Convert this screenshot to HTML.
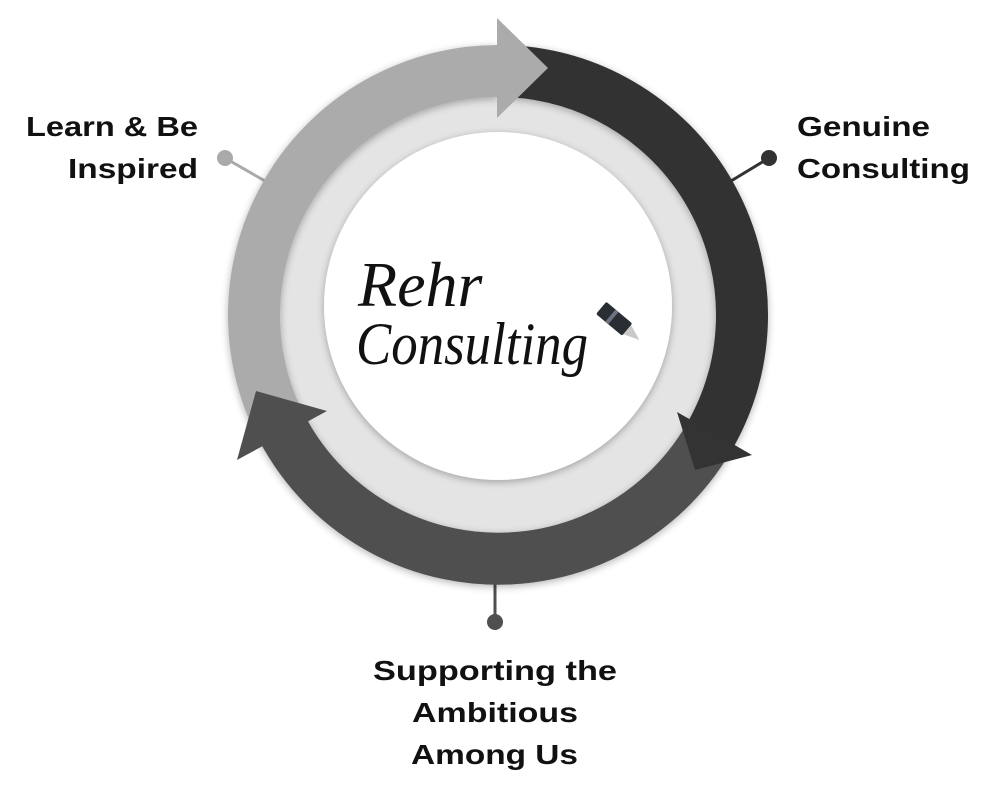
<!DOCTYPE html>
<html><head><meta charset="utf-8"><style>
html,body{margin:0;padding:0;background:#fff;}
svg{display:block;}
.lb{font-family:"Liberation Sans",sans-serif;font-weight:bold;font-size:28px;fill:#111;}
.logo{font-family:"Liberation Serif",serif;font-style:italic;fill:#111;}
</style></head><body>
<svg width="999" height="786" viewBox="0 0 999 786" xmlns="http://www.w3.org/2000/svg">
<defs>
<filter id="sh" x="-20%" y="-20%" width="140%" height="140%"><feGaussianBlur in="SourceAlpha" stdDeviation="4"/><feOffset dy="2"/><feComponentTransfer><feFuncA type="linear" slope="0.3"/></feComponentTransfer><feMerge><feMergeNode/><feMergeNode in="SourceGraphic"/></feMerge></filter>
</defs>
<line x1="225" y1="158" x2="265" y2="181" stroke="#aaaaaa" stroke-width="3"/>
<circle cx="225" cy="158" r="8" fill="#aaaaaa"/>
<line x1="769" y1="158" x2="731" y2="181" stroke="#333" stroke-width="3"/>
<circle cx="769" cy="158" r="8" fill="#333"/>
<line x1="495" y1="580" x2="495" y2="618" stroke="#4f4f4f" stroke-width="3"/>
<circle cx="495" cy="622" r="8" fill="#4f4f4f"/>
<circle cx="498" cy="315" r="224" fill="#e4e4e4"/>
<circle cx="498" cy="306" r="174" fill="#fff" filter="url(#sh)"/>
<g fill="none" stroke-width="52" filter="url(#sh)">
<path d="M286.7,437 A244,244 0 0 1 498,71" stroke="#ababab"/>
<path d="M733.7,378.2 A244,244 0 0 1 278,420" stroke="#4f4f4f"/>
<path d="M510.8,71.3 A244,244 0 0 1 711.4,433.3" stroke="#333333"/>
</g>
<polygon points="497,18 548,68 497,118" fill="#ababab"/>
<polygon points="677,412 752,455 695,470" fill="#333333"/>
<polygon points="327,411 256,391 237,460" fill="#4f4f4f"/>
<text class="logo" x="358" y="306" font-size="64">Rehr</text>
<text class="logo" x="356" y="364" font-size="60" textLength="232" lengthAdjust="spacingAndGlyphs">Consulting</text>
<g transform="translate(618,322) rotate(-50)">
<rect x="-8" y="-22" width="16" height="34" rx="2" fill="#2a2d33"/>
<rect x="-8" y="-10" width="16" height="4" fill="#6c7480"/>
<polygon points="-6,12 6,12 0,28" fill="#c9c9c9"/>
</g>
<text class="lb" x="198" y="136" text-anchor="end" textLength="172" lengthAdjust="spacingAndGlyphs">Learn &amp; Be</text>
<text class="lb" x="198" y="178" text-anchor="end" textLength="130" lengthAdjust="spacingAndGlyphs">Inspired</text>
<text class="lb" x="797" y="136" textLength="133" lengthAdjust="spacingAndGlyphs">Genuine</text>
<text class="lb" x="797" y="178" textLength="173" lengthAdjust="spacingAndGlyphs">Consulting</text>
<text class="lb" x="373" y="680" textLength="244" lengthAdjust="spacingAndGlyphs">Supporting the</text>
<text class="lb" x="412" y="722" textLength="166" lengthAdjust="spacingAndGlyphs">Ambitious</text>
<text class="lb" x="411" y="764" textLength="167" lengthAdjust="spacingAndGlyphs">Among Us</text>
</svg>
</body></html>
